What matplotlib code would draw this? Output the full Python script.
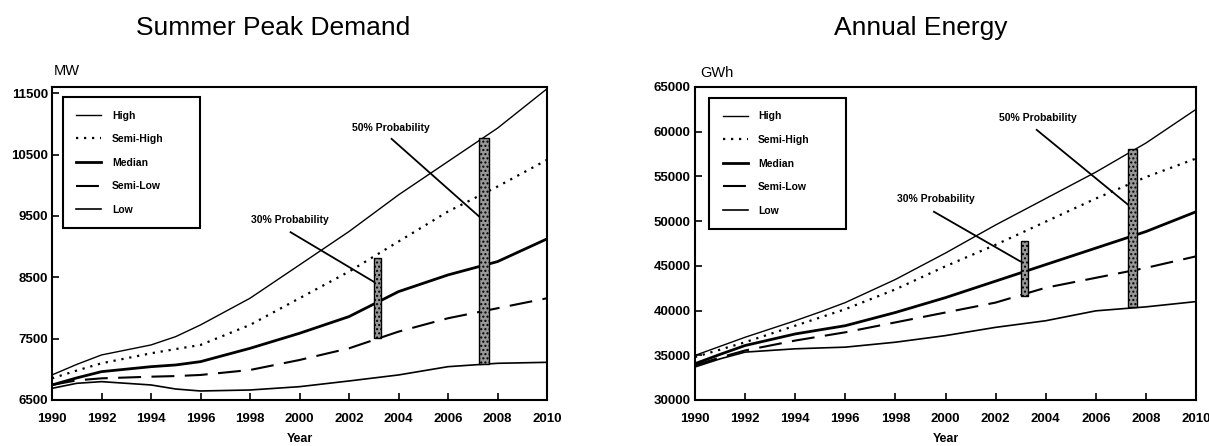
import matplotlib
matplotlib.use("Agg")
import matplotlib.pyplot as plt

plt.rcParams['font.family'] = ['Liberation Sans', 'DejaVu Sans']

years = [1990, 1991, 1992, 1994, 1995, 1996, 1998, 2000, 2002, 2004, 2006, 2008, 2010]
series_names = ["High", "Semi-High", "Median", "Semi-Low", "Low"]

# Summer Peak Demand (MW)
mw_high = [6908, 7080, 7234, 7397, 7533, 7723, 8158, 8701, 9245, 9842, 10386, 10929, 11571]
mw_semi_high = [6853, 6980, 7098, 7261, 7330, 7397, 7723, 8158, 8592, 9082, 9571, 9978, 10413]
mw_median = [6745, 6860, 6962, 7043, 7071, 7125, 7342, 7587, 7859, 8266, 8538, 8755, 9125]
mw_semi_low = [6745, 6820, 6853, 6880, 6890, 6908, 6989, 7152, 7342, 7614, 7832, 7995, 8158]
mw_low = [6690, 6772, 6799, 6745, 6679, 6647, 6663, 6717, 6810, 6908, 7043, 7098, 7114]

# Annual Energy (GWh)
gwh_high = [34985, 36000, 37016, 38863, 39850, 40894, 43478, 46433, 49572, 52526, 55480, 58730, 62500]
gwh_semi_high = [34800, 35630, 36462, 38309, 39230, 40155, 42371, 44956, 47356, 49941, 52526, 54926, 57000]
gwh_median = [34062, 35100, 36093, 37386, 37850, 38309, 39786, 41448, 43294, 45140, 46987, 48833, 51049]
gwh_semi_low = [33877, 34750, 35539, 36647, 37110, 37570, 38678, 39786, 40894, 42555, 43663, 44771, 46063]
gwh_low = [33693, 34600, 35355, 35724, 35820, 35909, 36462, 37201, 38124, 38863, 39970, 40414, 41004]

# Probability bars: [30%, 50%]
bar_labels = ["30% Probability", "50% Probability"]
mw_bar_x = [2003.0, 2007.25]
mw_bar_w = [0.3, 0.4]
mw_bar_low = [7505, 7082]
mw_bar_high = [8810, 10766]
gwh_bar_x = [2003.0, 2007.3]
gwh_bar_w = [0.3, 0.36]
gwh_bar_low = [41632, 40414]
gwh_bar_high = [47725, 58065]

xticks = list(range(1990, 2011, 2))
mw_yticks = [6500, 7500, 8500, 9500, 10500, 11500]
gwh_yticks = [30000, 35000, 40000, 45000, 50000, 55000, 60000, 65000]

W, H = 1209, 446
fig = plt.figure(figsize=(W / 100, H / 100), dpi=100)

styles = [
    dict(color='black', lw=1.0, ls='-'),
    dict(color='black', lw=1.6, ls=(0, (1, 2.6))),
    dict(color='black', lw=2.0, ls='-'),
    dict(color='black', lw=1.5, ls=(0, (11, 5))),
    dict(color='black', lw=1.2, ls='-'),
]


def panel(rect, data, yticks, ylim, bx, bw, blo, bhi, ann, legend_rect):
    ax = fig.add_axes(rect)
    handles = []
    for name, vals, st in zip(series_names, data, styles):
        h, = ax.plot(years, vals, label=name, **st)
        handles.append(h)
    for x, w, lo, hi in zip(bx, bw, blo, bhi):
        ax.bar(x, hi - lo, width=w, bottom=lo, align='edge',
               facecolor='#999999', edgecolor='black', hatch='....', lw=1.0, zorder=3)
    for (label, tx, ty, x0, y0, x1, y1) in ann:
        ax.text(tx, ty, label, ha='center', va='center', fontsize=7.5, fontweight='bold')
        ax.plot([x0, x1], [y0, y1], color='black', lw=1.3)
    ax.set_xlim(1990, 2010)
    ax.set_ylim(*ylim)
    ax.set_xticks(xticks)
    ax.set_yticks(yticks)
    ax.tick_params(axis='both', direction='in', length=5, width=1.2, labelsize=9.5)
    for lab in ax.get_xticklabels() + ax.get_yticklabels():
        lab.set_fontweight('bold')
    ax.tick_params(axis='x', pad=9)
    ax.tick_params(axis='y', pad=3)
    for sp in ax.spines.values():
        sp.set_linewidth(1.5)
    ax.set_xlabel("Year", fontsize=9, fontweight='bold', labelpad=6)
    leg = ax.legend(handles=handles, loc='upper left', bbox_to_anchor=legend_rect,
                    mode='expand', fontsize=7.5, labelspacing=1.3, handlelength=2.4,
                    handletextpad=1.0, borderpad=1.3, fancybox=False, edgecolor='black',
                    framealpha=1, borderaxespad=0)
    leg.get_frame().set_linewidth(1.5)
    for t in leg.get_texts():
        t.set_fontweight('bold')
    return ax


top_px, bot_px = 87, 400
hgt = (bot_px - top_px) / H
bottom = 1 - bot_px / H

ax1 = panel([52 / W, bottom, (547 - 52) / W, hgt],
            [mw_high, mw_semi_high, mw_median, mw_semi_low, mw_low],
            mw_yticks, (6500, 11600), mw_bar_x, mw_bar_w, mw_bar_low, mw_bar_high,
            [(bar_labels[0], 1999.6, 9435, 1999.64, 9234, 2002.99, 8429),
             (bar_labels[1], 2003.7, 10940, 2003.72, 10755, 2007.26, 9489)],
            (0.022, 0.0, 0.277, 0.968))

ax2 = panel([695 / W, bottom, (1196 - 695) / W, hgt],
            [gwh_high, gwh_semi_high, gwh_median, gwh_semi_low, gwh_low],
            gwh_yticks, (30000, 65000), gwh_bar_x, gwh_bar_w, gwh_bar_low, gwh_bar_high,
            [(bar_labels[0], 1999.6, 52526, 1999.54, 51049, 2002.98, 45510),
             (bar_labels[1], 2003.7, 61573, 2003.64, 60207, 2007.39, 51603)],
            (0.028, 0.0, 0.273, 0.965))

fig.text(273 / W, 1 - 28 / H, "Summer Peak Demand", ha='center', va='center', fontsize=19)
fig.text(921 / W, 1 - 28 / H, "Annual Energy", ha='center', va='center', fontsize=19)
fig.text(54 / W, 1 - 71 / H, "MW", ha='left', va='center', fontsize=10.5)
fig.text(700 / W, 1 - 73 / H, "GWh", ha='left', va='center', fontsize=10.5)

fig.savefig("out.png", dpi=100, facecolor='white')
